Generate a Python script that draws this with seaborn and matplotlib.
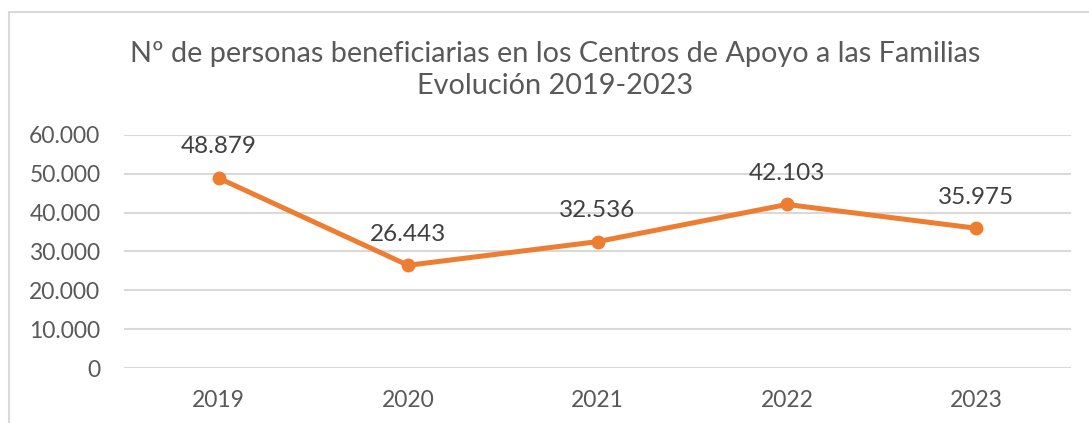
import matplotlib
matplotlib.use("Agg")
import matplotlib.pyplot as plt
import matplotlib.patches as patches
from matplotlib.ticker import FuncFormatter
import pandas as pd
import seaborn as sns

# Data
years = ["2019", "2020", "2021", "2022", "2023"]
beneficiarios = [48879, 26443, 32536, 42103, 35975]
title = "Nº de personas beneficiarias en los Centros de Apoyo a las Familias\nEvolución 2019-2023"

TEXT = "#595959"
LABEL = "#404040"
ORANGE = "#ED7D31"
GRID = "#D9D9D9"


def miles(v, pos=None):
    # Spanish thousands separator
    return f"{int(round(v)):,}".replace(",", ".")


def main():
    sns.set_style("white")
    plt.rcParams["font.family"] = ["Lato", "DejaVu Sans"]

    df = pd.DataFrame({"year": years, "value": beneficiarios})

    fig = plt.figure(figsize=(10.89, 4.23), dpi=100)
    ax = fig.add_axes([0.1139, 0.130, 0.8696, 0.551])

    sns.lineplot(data=df, x="year", y="value", ax=ax, sort=False,
                 color=ORANGE, linewidth=3.6, marker="o", markersize=10,
                 markeredgewidth=0)

    # data labels
    for i, v in enumerate(beneficiarios):
        ax.annotate(miles(v), (i, v), xytext=(0, 22.5), textcoords="offset points",
                    ha="center", va="center", fontsize=17.5, color=LABEL)

    ax.set_xlim(-0.5, len(years) - 0.5)
    ax.set_ylim(0, 60000)
    ax.set_yticks(range(0, 60001, 10000))
    ax.yaxis.set_major_formatter(FuncFormatter(miles))
    ax.grid(axis="y", color=GRID, linewidth=1.5)
    ax.set_axisbelow(True)
    for s in ax.spines.values():
        s.set_visible(False)
    ax.tick_params(axis="both", length=0, labelsize=16.5, labelcolor=TEXT)
    ax.tick_params(axis="y", pad=17)
    ax.tick_params(axis="x", pad=16)
    ax.set_xlabel("")
    ax.set_ylabel("")

    fig.text(0.5096, 0.835, title, ha="center", va="center", fontsize=20.8,
             color=TEXT, linespacing=1.3)

    # chart border
    fig.patches.append(patches.Rectangle((9 / 1089, -0.1), 1.2, 0.1 + (423 - 12) / 423,
                                         transform=fig.transFigure, fill=False,
                                         edgecolor=GRID, linewidth=1.5))

    fig.savefig("out.png", dpi=100)


if __name__ == "__main__":
    main()
